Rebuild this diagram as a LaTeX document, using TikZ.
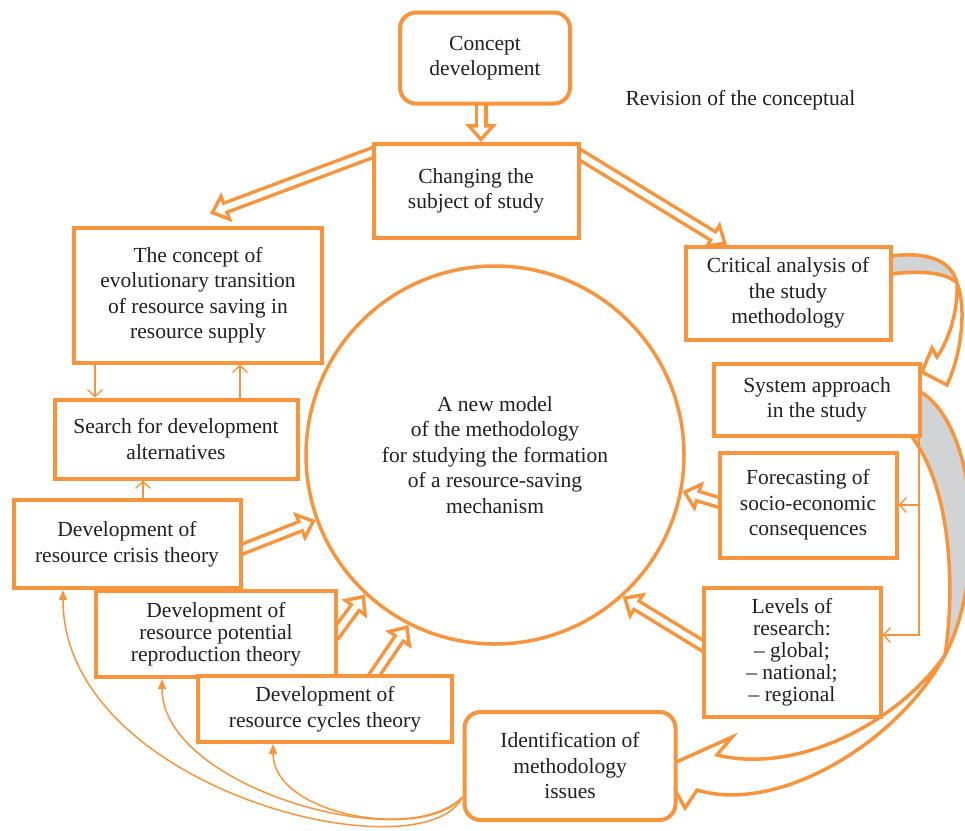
\documentclass[tikz,border=0pt]{standalone}
\usepackage{fontspec}
\setmainfont{Liberation Serif}
\usetikzlibrary{arrows.meta,calc}
\definecolor{ora}{HTML}{F7943C}
\definecolor{txt}{HTML}{231F20}
\definecolor{band}{HTML}{D1D3D4}
\pgfdeclarelayer{back}
\pgfsetlayers{back,main}
\newcommand{\hollowarrow}[2]{%
  \draw[hollow out] #1 -- #2;
  \draw[hollow in] #1 -- #2;}

\begin{document}
\begin{tikzpicture}[x=1pt,y=-1pt,line cap=butt,line join=miter,
  font=\fontsize{21.5}{25.5}\selectfont,
  box/.style={draw=ora,line width=4pt,fill=white,text=txt,align=center,inner sep=2pt},
  rbox/.style={box,rounded corners=16pt},
  tight/.style={font=\fontsize{21.5}{22}\selectfont},
  hollow out/.style={draw=ora,line width=13pt,shorten <=-7pt,-{Triangle[length=18pt,width=32pt,line width=0pt]}},
  hollow in/.style={draw=white,line width=6pt,shorten <=-7pt,shorten >=5.3pt,-{Triangle[length=9.2pt,width=16.3pt,line width=0pt]}},
  link/.style={draw=ora,line width=1.4pt,-{Straight Barb[length=7pt,width=15pt]}},
  feedback/.style={draw=ora,line width=1.5pt,-{Triangle[length=10pt,width=8pt]}},
  ribbon/.style={draw=ora,line width=3.5pt}]
\useasboundingbox (0,0) rectangle (965,830);

% boxes
\node[rbox,minimum width=170pt,minimum height=91pt] (concept) at (485,58) {Concept\\development};
\node[text=txt,anchor=west] (revision) at (622,100) {Revision of the conceptual};
\node[box,minimum width=205pt,minimum height=94pt] (changing) at (476,191) {Changing the\\subject of study};
\node[box,minimum width=248pt,minimum height=135pt] (evol) at (198,295) {The concept of\\evolutionary transition\\of resource saving in\\resource supply};
\node[box,minimum width=205pt,minimum height=93pt] (critical) at (788,293) {Critical analysis of\\the study\\methodology};
\node[box,minimum width=206pt,minimum height=72pt] (system) at (817,400) {System approach\\in the study};
\node[box,minimum width=177pt,minimum height=105pt] (forecast) at (808,505) {Forecasting of\\socio-economic\\consequences};
\node[box,tight,minimum width=177pt,minimum height=129pt] (levels) at (792,652) {Levels of\\research:\\– global;\\– national;\\– regional};
\node[rbox,minimum width=211pt,minimum height=108pt] (ident) at (570,766) {Identification of\\methodology\\issues};
\node[box,minimum width=243pt,minimum height=79pt] (search) at (176,439) {Search for development\\alternatives};
\node[box,minimum width=227pt,minimum height=88pt] (crisis) at (127,544) {Development of\\resource crisis theory};
\node[box,tight,minimum width=240pt,minimum height=86pt] (potential) at (216,634) {Development of\\resource potential\\reproduction theory};
\node[box,minimum width=254pt,minimum height=66pt] (cycles) at (325,709) {Development of\\resource cycles theory};
\node[circle,draw=ora,line width=3.5pt,fill=white,text=txt,align=center,minimum size=378pt] (model) at (495,455)
  {A new model\\of the methodology\\for studying the formation\\of a resource-saving\\mechanism};

\begin{pgfonlayer}{back}
% hollow arrows
\hollowarrow{([xshift=-4pt]concept.south)}{([xshift=-4pt]concept.south |- changing.north)}
\hollowarrow{([yshift=-11pt]changing.north west)}{([xshift=12pt,yshift=12pt]evol.north)}
\hollowarrow{([yshift=-13pt]changing.north east)}{([xshift=-61pt]critical.north)}
\hollowarrow{([yshift=-5pt]crisis.east)}{(model.200)}
\hollowarrow{([yshift=3pt]potential.east)}{(model.227)}
\hollowarrow{([xshift=50pt]cycles.north)}{(model.243)}
\hollowarrow{([yshift=3pt]forecast.west)}{(model.-11)}
\hollowarrow{([yshift=7pt]levels.west)}{(model.-48)}

% curved ribbon: critical -> system
\fill[band] (891,256) .. controls (930,251) and (952,262) .. (957,283)
  .. controls (945,271) and (915,271) .. (891,274) -- cycle;
\draw[ribbon] (891,256) .. controls (930,251) and (952,262) .. (957,283)
  .. controls (966,305) and (963,350) .. (947,385) -- (922,372) -- (932,348) -- (937,357)
  .. controls (952,335) and (958,305) .. (957,283)
  .. controls (945,271) and (915,271) .. (891,274);

% curved ribbon: system -> identification
\fill[band] (921,392) .. controls (980,430) and (985,580) .. (945,655)
  .. controls (955,590) and (952,490) .. (912,437) -- cycle;
\draw[ribbon] (912,437) .. controls (952,490) and (955,590) .. (945,655);
\draw[ribbon] (921,392) .. controls (980,430) and (985,580) .. (945,655)
  .. controls (900,740) and (780,815) .. (697,790) -- (685,808) -- (663,768) -- (732,737) -- (717,755)
  .. controls (800,775) and (900,720) .. (945,655);
\end{pgfonlayer}

% thin links
\draw[link] ([xshift=-103pt]evol.south) -- ([xshift=-103pt]evol.south |- search.north);
\draw[link] ([xshift=64pt]search.north) -- ([xshift=64pt]search.north |- evol.south);
\draw[link] ([xshift=16pt]crisis.north) -- ([xshift=16pt]crisis.north |- search.south);
\coordinate (drop) at ([xshift=-3pt]system.south east);
\draw[link] (drop) |- ([yshift=17pt]levels.east);
\draw[link] (drop |- forecast.east) -- (forecast.east);

% feedback from identification
\coordinate (fb) at ([yshift=-31pt]ident.west);
\draw[feedback] (fb) .. controls +(-40,80) and +(0,200) .. ([xshift=-64pt]crisis.south);
\draw[feedback] (fb) .. controls +(-50,60) and +(0,110) .. ([xshift=-54pt]potential.south);
\draw[feedback] (fb) .. controls +(-45,45) and +(0,70) .. ([xshift=-52pt]cycles.south);
\end{tikzpicture}
\end{document}
